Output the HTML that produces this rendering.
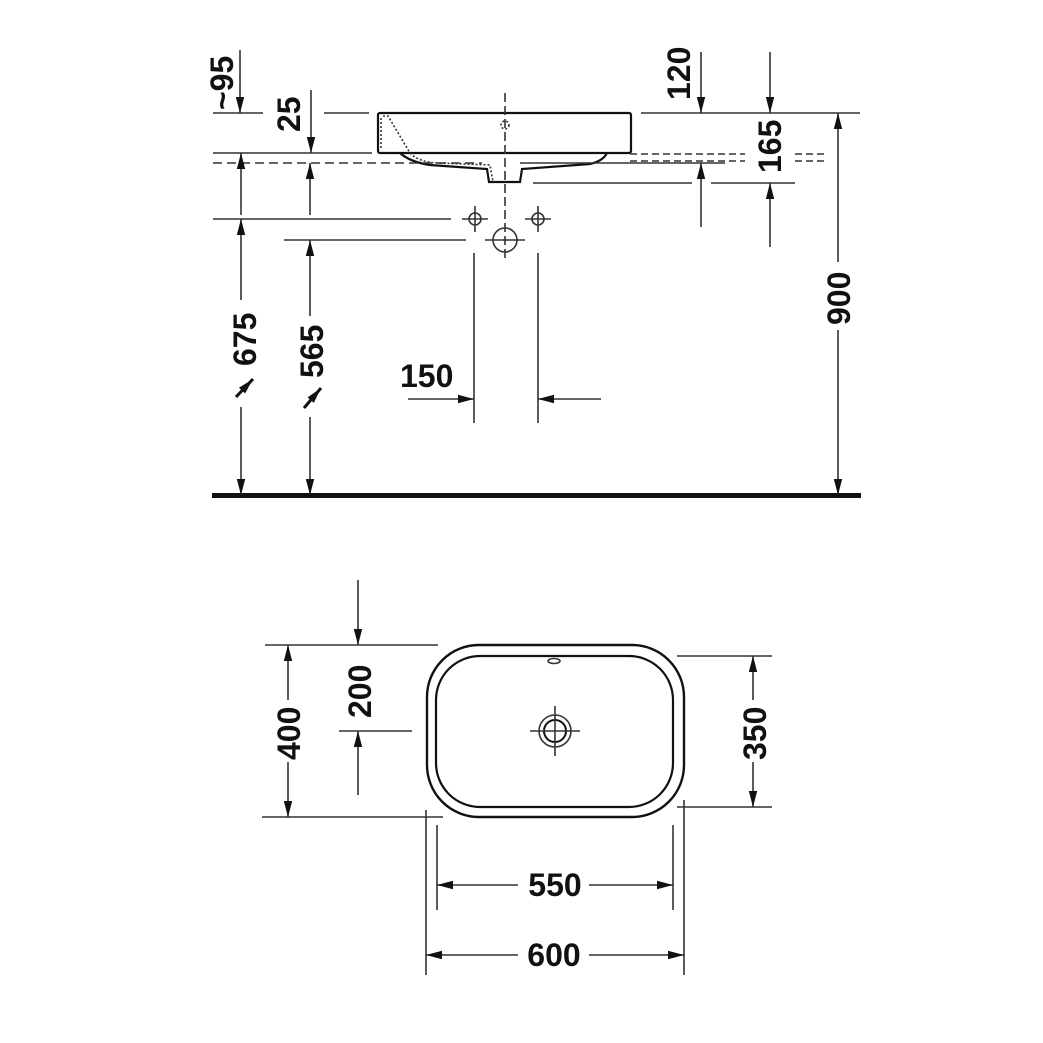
<!DOCTYPE html>
<html><head><meta charset="utf-8"><style>
html,body{margin:0;padding:0;background:#fff}
svg{display:block}
text{font-family:"Liberation Sans",Arial,sans-serif;font-weight:bold;fill:#111}
</style></head><body>
<svg width="1043" height="1043" viewBox="0 0 1043 1043" xmlns="http://www.w3.org/2000/svg">
<defs>
<marker id="a" viewBox="0 0 16 10" refX="16" refY="5" markerWidth="16" markerHeight="10" markerUnits="userSpaceOnUse" orient="auto"><path d="M0,0.8 L16,5 L0,9.2 z" fill="#111"/></marker>
</defs>
<g stroke="#333" stroke-width="1.6" fill="none">
<rect x="378" y="113" width="253" height="40" rx="2" stroke="#111" stroke-width="2.2"/>
<path d="M400,153 Q410,162 430,165 L487,169 L489,182 L520,182 L522,169 L590,164 Q603,161 607,153" stroke="#111" stroke-width="2.2"/>
<path d="M383,116 L388,116 L410,153 Q420,163 440,163 L490,165 L493,182" stroke-dasharray="2,2"/>
<path d="M381,118 L381,150" stroke-dasharray="2,2"/>
<line x1="505" y1="93" x2="505" y2="262" stroke-dasharray="9,4"/>
<circle cx="505" cy="125" r="4" stroke-dasharray="2,2"/>
<line x1="213" y1="113" x2="263" y2="113"/>
<line x1="324" y1="113" x2="369" y2="113"/>
<line x1="641" y1="113" x2="860" y2="113"/>
<line x1="213" y1="153" x2="372" y2="153"/>
<line x1="213" y1="163" x2="482" y2="163" stroke-dasharray="9,5"/>
<line x1="630" y1="154" x2="745" y2="154" stroke-dasharray="7,4"/>
<line x1="630" y1="161" x2="745" y2="161" stroke-dasharray="7,4"/>
<line x1="795" y1="154" x2="825" y2="154" stroke-dasharray="7,4"/>
<line x1="795" y1="161" x2="825" y2="161" stroke-dasharray="7,4"/>
<line x1="520" y1="163" x2="725" y2="163"/>
<line x1="533" y1="183" x2="692" y2="183"/>
<line x1="711" y1="183" x2="795" y2="183"/>
<line x1="213" y1="219" x2="451" y2="219"/>
<line x1="284" y1="240" x2="466" y2="240"/>
<circle cx="475" cy="219" r="6"/><line x1="462" y1="219" x2="488" y2="219"/><line x1="475" y1="206" x2="475" y2="232"/>
<circle cx="538" cy="219" r="6"/><line x1="525" y1="219" x2="551" y2="219"/><line x1="538" y1="206" x2="538" y2="232"/>
<circle cx="505" cy="240" r="12"/><line x1="485" y1="240" x2="525" y2="240"/>
<line x1="474" y1="253" x2="474" y2="423"/>
<line x1="538" y1="253" x2="538" y2="423"/>
<line x1="240" y1="50" x2="240" y2="113" marker-end="url(#a)"/>
<line x1="311" y1="90" x2="311" y2="153" marker-end="url(#a)"/>
<line x1="241" y1="215" x2="241" y2="153" marker-end="url(#a)"/>
<line x1="241" y1="300" x2="241" y2="219" marker-end="url(#a)"/>
<line x1="241" y1="407" x2="241" y2="495" marker-end="url(#a)"/>
<line x1="310" y1="215" x2="310" y2="163" marker-end="url(#a)"/>
<line x1="310" y1="316" x2="310" y2="240" marker-end="url(#a)"/>
<line x1="310" y1="417" x2="310" y2="495" marker-end="url(#a)"/>
<line x1="701" y1="52" x2="701" y2="113" marker-end="url(#a)"/>
<line x1="701" y1="227" x2="701" y2="163" marker-end="url(#a)"/>
<line x1="770" y1="52" x2="770" y2="113" marker-end="url(#a)"/>
<line x1="770" y1="247" x2="770" y2="183" marker-end="url(#a)"/>
<line x1="838" y1="262" x2="838" y2="113" marker-end="url(#a)"/>
<line x1="838" y1="330" x2="838" y2="495" marker-end="url(#a)"/>
<line x1="408" y1="399" x2="474" y2="399" marker-end="url(#a)"/>
<line x1="601" y1="399" x2="538" y2="399" marker-end="url(#a)"/>
<line x1="236" y1="397" x2="253" y2="379" stroke="#111" stroke-width="3" marker-end="url(#a)"/>
<line x1="304" y1="408" x2="321" y2="388" stroke="#111" stroke-width="3" marker-end="url(#a)"/>
</g>
<rect x="212" y="493" width="649" height="5" fill="#111"/>
<g font-size="32">
<text transform="translate(233,110) rotate(-90)">~95</text>
<text transform="translate(300,132) rotate(-90)">25</text>
<text transform="translate(256,366) rotate(-90)">675</text>
<text transform="translate(323,378) rotate(-90)">565</text>
<text transform="translate(690,100) rotate(-90)">120</text>
<text transform="translate(781,173) rotate(-90)">165</text>
<text transform="translate(850,325) rotate(-90)">900</text>
<text x="400" y="387">150</text>
</g>
<g stroke="#333" stroke-width="1.6" fill="none">
<rect x="427" y="645" width="257" height="172" rx="52" stroke="#111" stroke-width="2.4"/>
<rect x="436" y="656" width="237" height="151" rx="44" stroke="#111" stroke-width="2.2"/>
<ellipse cx="554" cy="661" rx="6" ry="2.5"/>
<circle cx="555" cy="731" r="16"/>
<circle cx="555" cy="731" r="11" stroke="#111" stroke-width="2"/>
<line x1="530" y1="731" x2="580" y2="731"/>
<line x1="555" y1="706" x2="555" y2="756"/>
<line x1="265" y1="645" x2="438" y2="645"/>
<line x1="262" y1="817" x2="443" y2="817"/>
<line x1="339" y1="731" x2="412" y2="731"/>
<line x1="677" y1="656" x2="772" y2="656"/>
<line x1="677" y1="807" x2="772" y2="807"/>
<line x1="288" y1="700" x2="288" y2="645" marker-end="url(#a)"/>
<line x1="288" y1="762" x2="288" y2="817" marker-end="url(#a)"/>
<line x1="358" y1="580" x2="358" y2="645" marker-end="url(#a)"/>
<line x1="358" y1="795" x2="358" y2="731" marker-end="url(#a)"/>
<line x1="753" y1="700" x2="753" y2="656" marker-end="url(#a)"/>
<line x1="753" y1="762" x2="753" y2="807" marker-end="url(#a)"/>
<line x1="437" y1="825" x2="437" y2="910"/>
<line x1="673" y1="825" x2="673" y2="910"/>
<line x1="426" y1="810" x2="426" y2="975"/>
<line x1="684" y1="800" x2="684" y2="975"/>
<line x1="518" y1="885" x2="437" y2="885" marker-end="url(#a)"/>
<line x1="589" y1="885" x2="673" y2="885" marker-end="url(#a)"/>
<line x1="518" y1="955" x2="426" y2="955" marker-end="url(#a)"/>
<line x1="589" y1="955" x2="684" y2="955" marker-end="url(#a)"/>
</g>
<g font-size="32">
<text transform="translate(300,760) rotate(-90)">400</text>
<text transform="translate(371,718) rotate(-90)">200</text>
<text transform="translate(766,760) rotate(-90)">350</text>
<text x="555" y="896" text-anchor="middle">550</text>
<text x="554" y="966" text-anchor="middle">600</text>
</g>
</svg>
</body></html>
